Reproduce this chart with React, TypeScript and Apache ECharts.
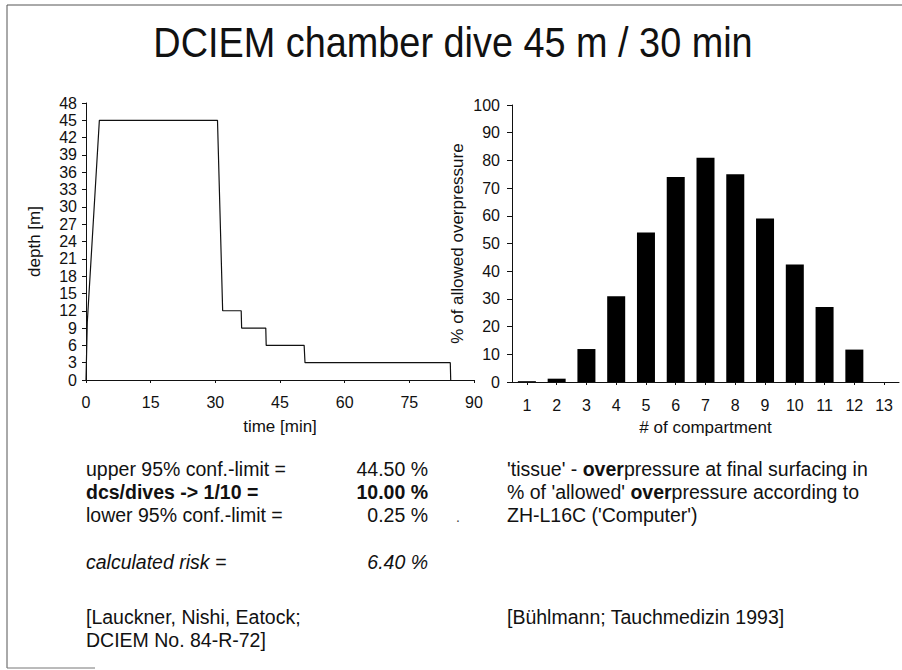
import React, { useEffect, useRef } from "react";
import * as echarts from "echarts";

// ---- data ----
const profileTime = [0, 0.3, 3.1, 30.5, 31.7, 36.0, 36.1, 41.7, 41.8, 50.6, 50.8, 84.5, 84.6];
const profileDepth = [0, 10, 45, 45, 12, 12, 9, 9, 6, 6, 3, 3, 0];
const compartments = ["1", "2", "3", "4", "5", "6", "7", "8", "9", "10", "11", "12", "13"];
const overpressure = [0.3, 1.2, 11.9, 31, 54, 74, 81, 75, 59, 42.4, 27.1, 11.7, 0];

const titleText = "DCIEM chamber dive 45 m / 30 min";
const statLabels = ["upper 95% conf.-limit =", "dcs/dives -> 1/10 =", "lower 95% conf.-limit =", "calculated risk ="];
const statValues = ["44.50 %", "10.00 %", "0.25 %", "6.40 %"];
const noteLines = [
  "'tissue' - {b|over}pressure at final surfacing in",
  "% of 'allowed' {b|over}pressure according to",
  "ZH-L16C ('Computer')",
];
const refLeft = ["[Lauckner, Nishi, Eatock;", "DCIEM No. 84-R-72]"];
const refRight = "[Bühlmann; Tauchmedizin 1993]";

const FONT = '"Liberation Sans", Arial, Helvetica, sans-serif';
const INK = "#111";
const TXT = 19.5;

export default function App() {
  const ref = useRef<HTMLDivElement>(null);

  useEffect(() => {
    document.body.style.margin = "0";
    const chart = echarts.init(ref.current!, null, { renderer: "svg" });

    const axisCommon = {
      axisLine: { show: true, lineStyle: { color: INK, width: 1 } },
      splitLine: { show: false },
      axisLabel: { color: INK, fontSize: 16, fontFamily: FONT },
      nameTextStyle: { color: INK, fontSize: 17, fontFamily: FONT },
    };

    const statRowsY = [469, 492, 515, 562];
    const graphics: any[] = [];
    // frame
    graphics.push({ type: "line", shape: { x1: 7, y1: 5, x2: 902, y2: 5 }, style: { stroke: "#555", lineWidth: 1 } });
    graphics.push({ type: "line", shape: { x1: 7, y1: 5, x2: 7, y2: 668 }, style: { stroke: "#555", lineWidth: 1 } });
    graphics.push({ type: "line", shape: { x1: 7, y1: 668, x2: 95, y2: 668 }, style: { stroke: "#777", lineWidth: 1 } });
    // title
    graphics.push({
      type: "text",
      x: 453,
      y: 42,
      scaleX: 0.88,
      style: {
        text: titleText,
        fill: INK,
        fontSize: 43,
        fontFamily: FONT,
        textAlign: "center",
        textVerticalAlign: "middle",
      },
    });
    statLabels.forEach((t, i) => {
      const weight = i === 1 ? "bold" : "normal";
      const style = i === 3 ? "italic" : "normal";
      graphics.push({
        type: "text",
        x: 86,
        y: statRowsY[i],
        style: { text: t, fill: INK, fontSize: TXT, fontFamily: FONT, fontWeight: weight, fontStyle: style, textAlign: "left", textVerticalAlign: "middle" },
      });
      graphics.push({
        type: "text",
        x: 428,
        y: statRowsY[i],
        style: { text: statValues[i], fill: INK, fontSize: TXT, fontFamily: FONT, fontWeight: weight, fontStyle: style, textAlign: "right", textVerticalAlign: "middle" },
      });
    });
    graphics.push({
      type: "text",
      x: 458,
      y: 517,
      style: { text: ".", fill: "#444", fontSize: 14, fontFamily: FONT, textAlign: "center", textVerticalAlign: "middle" },
    });
    noteLines.forEach((t, i) => {
      graphics.push({
        type: "text",
        x: 507,
        y: statRowsY[i],
        style: {
          text: t,
          fill: INK,
          fontSize: TXT,
          fontFamily: FONT,
          textAlign: "left",
          textVerticalAlign: "middle",
          rich: { b: { fontWeight: "bold", fontSize: TXT, fontFamily: FONT, fill: INK } },
        },
      });
    });
    refLeft.forEach((t, i) => {
      graphics.push({
        type: "text",
        x: 86,
        y: 617 + i * 23,
        style: { text: t, fill: INK, fontSize: TXT, fontFamily: FONT, textAlign: "left", textVerticalAlign: "middle" },
      });
    });
    graphics.push({
      type: "text",
      x: 507,
      y: 617,
      style: { text: refRight, fill: INK, fontSize: TXT, fontFamily: FONT, textAlign: "left", textVerticalAlign: "middle" },
    });

    chart.setOption({
      animation: false,
      backgroundColor: "#fff",
      textStyle: { fontFamily: FONT },
      grid: [
        { left: 86, top: 103, width: 388, height: 277, containLabel: false },
        { left: 512, top: 105, width: 387, height: 277, containLabel: false },
      ],
      xAxis: [
        {
          ...axisCommon,
          gridIndex: 0,
          type: "value",
          min: 0,
          max: 90,
          interval: 15,
          name: "time [min]",
          nameLocation: "middle",
          nameGap: 38,
          axisTick: { show: true, inside: false, length: 3, lineStyle: { color: INK } },
          axisLabel: { ...axisCommon.axisLabel, margin: 14 },
        },
        {
          ...axisCommon,
          gridIndex: 1,
          type: "category",
          data: compartments,
          boundaryGap: true,
          name: "# of compartment",
          nameLocation: "middle",
          nameGap: 37,
          axisTick: { show: true, alignWithLabel: true, length: 3, lineStyle: { color: INK } },
          axisLabel: { ...axisCommon.axisLabel, margin: 15, interval: 0 },
        },
      ],
      yAxis: [
        {
          ...axisCommon,
          gridIndex: 0,
          type: "value",
          min: 0,
          max: 48,
          interval: 3,
          name: "depth [m]",
          nameLocation: "middle",
          nameGap: 43,
          axisTick: { show: true, inside: false, length: 4, lineStyle: { color: INK } },
          axisLabel: { ...axisCommon.axisLabel, margin: 9 },
        },
        {
          ...axisCommon,
          gridIndex: 1,
          type: "value",
          min: 0,
          max: 100,
          interval: 10,
          name: "% of allowed overpressure",
          nameLocation: "middle",
          nameGap: 46,
          axisTick: { show: true, inside: false, length: 5, lineStyle: { color: INK } },
          axisLabel: { ...axisCommon.axisLabel, margin: 12 },
        },
      ],
      series: [
        {
          type: "line",
          xAxisIndex: 0,
          yAxisIndex: 0,
          data: profileTime.map((t, i) => [t, profileDepth[i]]),
          showSymbol: false,
          symbol: "none",
          lineStyle: { color: INK, width: 1.2 },
          silent: true,
        },
        {
          type: "bar",
          xAxisIndex: 1,
          yAxisIndex: 1,
          data: overpressure,
          barWidth: 18,
          itemStyle: { color: "#000" },
          silent: true,
        },
      ],
      graphic: graphics,
    });

    return () => chart.dispose();
  }, []);

  return <div ref={ref} style={{ position: "fixed", left: 0, top: 0, width: 902, height: 670, background: "#fff" }} />;
}
